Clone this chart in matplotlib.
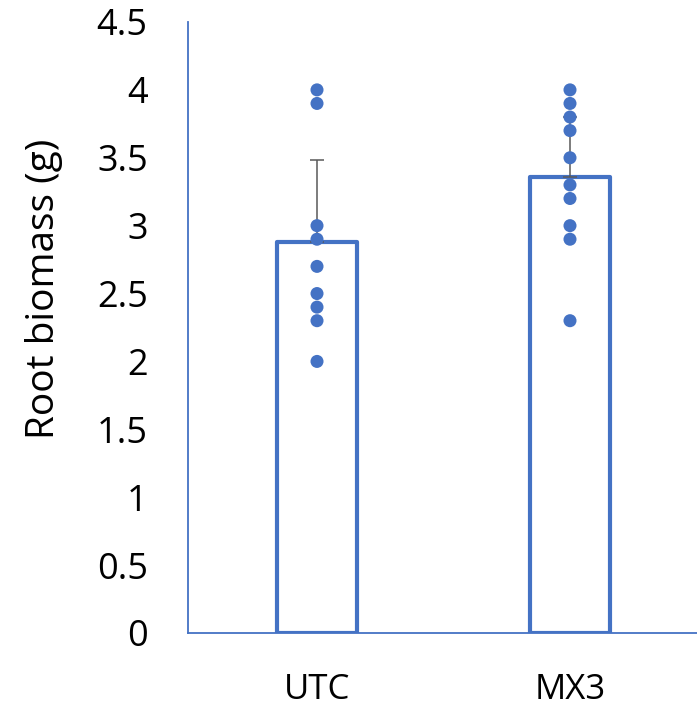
import matplotlib
matplotlib.use("Agg")
import matplotlib.pyplot as plt
import numpy as np

# --- dane ---
groups = ["UTC", "MX3"]
bar_means = [2.88, 3.36]
bar_errors = [0.60, 0.44]
utc_points = [4.0, 3.9, 3.0, 2.9, 2.7, 2.5, 2.4, 2.3, 2.0]
mx3_points = [4.0, 3.9, 3.8, 3.7, 3.5, 3.3, 3.2, 3.0, 2.9, 2.3]
yticks = [0, 0.5, 1, 1.5, 2, 2.5, 3, 3.5, 4, 4.5]
ytick_labels = ["0", "0.5", "1", "1.5", "2", "2.5", "3", "3.5", "4", "4.5"]

BLUE = "#4472C4"
plt.rcParams["font.family"] = ["Open Sans", "DejaVu Sans"]

fig = plt.figure(figsize=(6.97, 7.09), dpi=100)
ax = fig.add_axes([0.2697, 0.1072, 0.7303, 0.8618])

x = np.arange(len(groups))

# słupki z samą obwódką
ax.bar(x, bar_means, width=0.316, facecolor="white", edgecolor=BLUE,
       linewidth=3.0, joinstyle="round", zorder=2)

# słupki błędów (tylko w górę)
ax.errorbar(x, bar_means, yerr=[[0, 0], bar_errors], fmt="none",
            ecolor="#595959", elinewidth=1.1, capsize=5, capthick=1.1, zorder=3)

# punkty pomiarowe
for xi, pts in zip(x, [utc_points, mx3_points]):
    ax.scatter([xi] * len(pts), pts, s=88, color=BLUE, edgecolors="none", zorder=4)

ax.set_xlim(-0.51, 0.502 + 1)
ax.set_ylim(0, 4.5)
ax.set_yticks(yticks)
ax.set_yticklabels(ytick_labels)
ax.set_xticks(x)
ax.set_xticklabels(groups)

ax.tick_params(axis="y", length=0, pad=29, labelsize=26)
ax.tick_params(axis="x", length=0, pad=29, labelsize=25)

for side in ["top", "right"]:
    ax.spines[side].set_visible(False)
for side in ["left", "bottom"]:
    ax.spines[side].set_color(BLUE)
    ax.spines[side].set_linewidth(1.3)

ax.set_ylabel("Root biomass (g)", fontsize=28)
ax.yaxis.set_label_coords(-0.2456, 0.563)

plt.savefig("out.png", dpi=100)
